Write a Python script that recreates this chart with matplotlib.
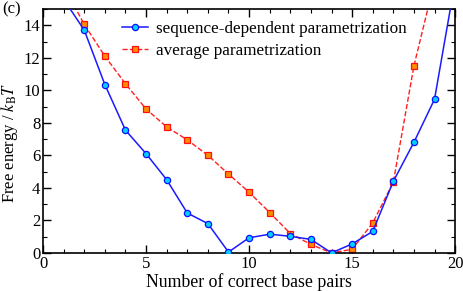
import matplotlib
matplotlib.use('Agg')
import matplotlib.pyplot as plt
from matplotlib.ticker import MultipleLocator

plt.rcParams['font.family'] = ['Liberation Serif', 'DejaVu Serif']
plt.rcParams['mathtext.fontset'] = 'stix'

pairs = list(range(1, 21))
seq_dep = [15.6, 13.7, 10.35, 7.55, 6.1, 4.5, 2.45, 1.8, 0.05, 0.93,
           1.15, 1.02, 0.83, 0.0, 0.55, 1.32, 4.4, 6.8, 9.45, 16.7]
avg_pairs = list(range(1, 20))
avg = [16.4, 14.05, 12.1, 10.4, 8.85, 7.75, 6.95, 6.0, 4.85, 3.73,
       2.48, 1.19, 0.52, 0.0, 0.22, 1.84, 4.35, 11.5, 16.7]

fig = plt.figure(figsize=(4.63, 2.91), dpi=100)
ax = fig.add_axes([0.093, 0.131, 0.890, 0.838])

ax.plot(avg_pairs, avg, '--', color='#ff2020', lw=1.0, marker='s', ms=4,
        mfc='#ff8c00', mec='#ff1010', mew=0.9,
        label='average parametrization', zorder=2)
ax.plot(pairs, seq_dep, '-', color='#1a1aff', lw=1.1, marker='o', ms=4.5,
        mfc='#00d0ff', mec='#1010ff', mew=0.9,
        label='sequence-dependent parametrization', zorder=3)

ax.set_xlim(0, 20)
ax.set_ylim(0, 15)
ax.xaxis.set_major_locator(MultipleLocator(5))
ax.xaxis.set_minor_locator(MultipleLocator(1))
ax.yaxis.set_major_locator(MultipleLocator(2))
ax.yaxis.set_minor_locator(MultipleLocator(1))
ax.set_yticks([0, 2, 4, 6, 8, 10, 12, 14])
ax.tick_params(which='both', direction='in', top=True, right=True, labelsize=12)
ax.tick_params(which='major', length=6, width=1.0, pad=2)
ax.tick_params(which='minor', length=3, width=0.8)
for s in ax.spines.values():
    s.set_linewidth(1.2)

ax.set_xlabel('Number of correct base pairs', fontsize=12.8, labelpad=1)
ax.set_ylabel(r'Free energy / $k_\mathrm{B}T$', fontsize=12)
ax.yaxis.set_label_coords(-0.056, 0.45)

handles, labels = ax.get_legend_handles_labels()
ax.legend(handles[::-1], labels[::-1], loc='upper left', bbox_to_anchor=(0.175, 0.98),
          frameon=False, fontsize=12.3, handlelength=1.5, handletextpad=0.5,
          labelspacing=0.35, borderaxespad=0)

fig.text(0.005, 0.955, '(c)', fontsize=12)

fig.savefig('out.png', dpi=100)
